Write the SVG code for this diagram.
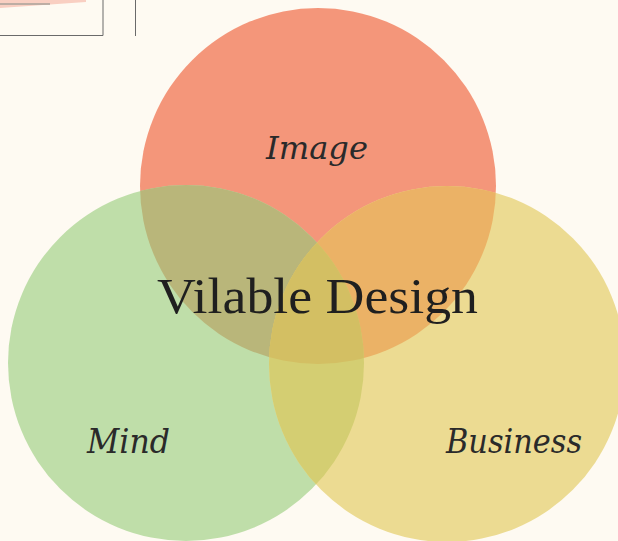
<svg xmlns="http://www.w3.org/2000/svg" width="618" height="541" viewBox="0 0 618 541">
<style>
.lbl{font-family:"DejaVu Serif","Liberation Serif",serif;font-style:italic;fill:#2a2a2a;}
.ttl{font-family:"Liberation Serif","DejaVu Serif",serif;fill:#1f1f1f;}
</style>
<defs>
<clipPath id="cR"><circle cx="318" cy="186" r="178"/></clipPath>
<clipPath id="cG"><circle cx="186" cy="363" r="178"/></clipPath>
<clipPath id="cY"><circle cx="447" cy="364" r="178"/></clipPath>
</defs>
<rect width="618" height="541" fill="#FEFAF2"/>
<g id="corner">
<polygon points="0,0 86,0 86,2 0,8" fill="#F9CFC2"/>
<line x1="0" y1="4" x2="50" y2="4" stroke="#A8A29A" stroke-width="1.5"/>
<polyline points="103,0 103,35.5 0,35.5" fill="none" stroke="#6a6a6a" stroke-width="1"/>
<line x1="135.5" y1="0" x2="135.5" y2="36" stroke="#6a6a6a" stroke-width="1"/>
</g>
<g id="image">
<circle cx="318" cy="186" r="178" fill="#F4967A"/>
</g>
<g id="mind">
<circle cx="186" cy="363" r="178" fill="#BFDEA9"/>
</g>
<g id="business">
<circle cx="447" cy="364" r="178" fill="#ECDB92"/>
</g>
<g id="overlaps">
<circle cx="186" cy="363" r="178" fill="#B9B67A" clip-path="url(#cR)"/>
<circle cx="447" cy="364" r="178" fill="#EBB266" clip-path="url(#cR)"/>
<circle cx="447" cy="364" r="178" fill="#D4CE72" clip-path="url(#cG)"/>
<g clip-path="url(#cR)"><circle cx="447" cy="364" r="178" fill="#D3BF63" clip-path="url(#cG)"/></g>
</g>
<text class="lbl" x="266" y="159" font-size="31" textLength="102" lengthAdjust="spacingAndGlyphs">Image</text>
<text class="lbl" x="87" y="453" font-size="33" textLength="83" lengthAdjust="spacingAndGlyphs">Mind</text>
<text class="lbl" x="446" y="453" font-size="33" textLength="136" lengthAdjust="spacingAndGlyphs">Business</text>
<text class="ttl" x="157" y="313" font-size="50" textLength="321" lengthAdjust="spacingAndGlyphs">Vilable Design</text>
</svg>
